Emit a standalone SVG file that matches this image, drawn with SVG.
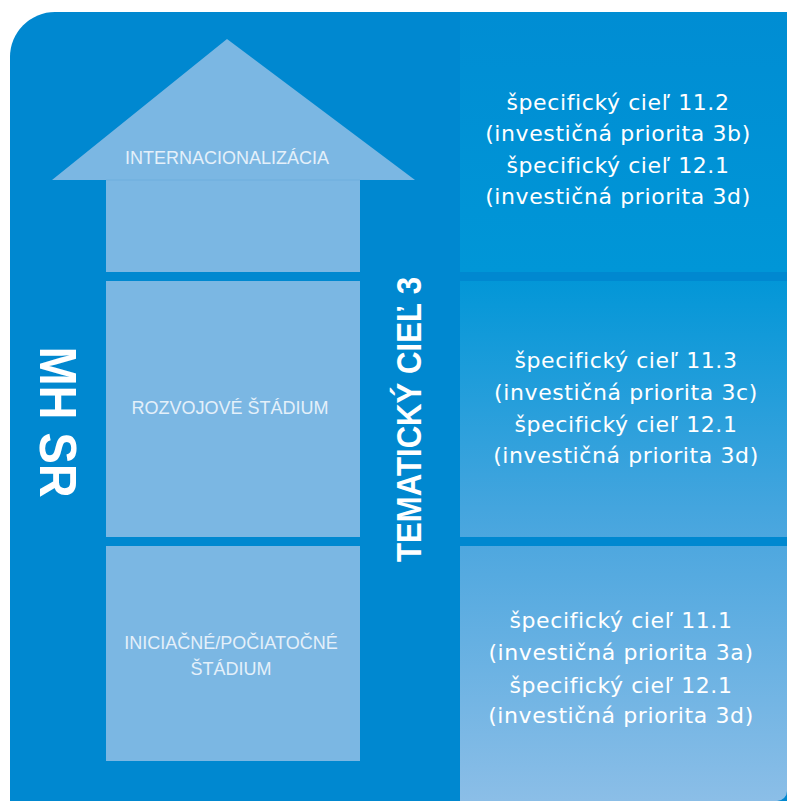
<svg xmlns="http://www.w3.org/2000/svg" width="787" height="801" viewBox="0 0 787 801">
<defs>
<linearGradient id="pg" gradientUnits="userSpaceOnUse" x1="0" y1="11" x2="0" y2="801">
<stop offset="0" stop-color="#008DD3"/>
<stop offset="0.33" stop-color="#0096D7"/>
<stop offset="0.67" stop-color="#4DA7DF"/>
<stop offset="1" stop-color="#8BBEE7"/>
</linearGradient>
<style>
.stage{fill:#7BB7E3;}
.lbl{font-family:"Liberation Sans",Arial,sans-serif;font-size:18px;fill:#E4F0FA;text-anchor:middle;}
.goal{font-family:"DejaVu Sans",Verdana,sans-serif;font-size:22px;fill:#FFFFFF;text-anchor:middle;letter-spacing:0.6px;}
.vert{font-family:"Liberation Sans",Arial,sans-serif;font-weight:bold;fill:#FFFFFF;text-anchor:middle;}
</style>
</defs>
<rect width="787" height="801" fill="#FFFFFF"/>
<path d="M10,801 L10,57 A45,45 0 0 1 55,12 L787,12 L787,801 Z" fill="#0088D0"/>
<g id="panel-top">
<rect x="460" y="12" width="327" height="260" fill="url(#pg)"/>
<text class="goal" x="618" y="110">špecifický cieľ 11.2</text>
<text class="goal" x="618" y="141">(investičná priorita 3b)</text>
<text class="goal" x="618" y="173">špecifický cieľ 12.1</text>
<text class="goal" x="618" y="204">(investičná priorita 3d)</text>
</g>
<g id="panel-mid">
<rect x="460" y="281" width="327" height="256" fill="url(#pg)"/>
<text class="goal" x="626" y="368">špecifický cieľ 11.3</text>
<text class="goal" x="626" y="400">(investičná priorita 3c)</text>
<text class="goal" x="626" y="432">špecifický cieľ 12.1</text>
<text class="goal" x="626" y="463">(investičná priorita 3d)</text>
</g>
<g id="panel-bottom">
<path d="M460,546 L787,546 L787,791 A10,10 0 0 1 777,801 L460,801 Z" fill="url(#pg)"/>
<text class="goal" x="621" y="628">špecifický cieľ 11.1</text>
<text class="goal" x="621" y="660">(investičná priorita 3a)</text>
<text class="goal" x="621" y="693">špecifický cieľ 12.1</text>
<text class="goal" x="621" y="723">(investičná priorita 3d)</text>
</g>
<g id="stage-internacionalizacia">
<path class="stage" d="M227,39 L415,180 L360,180 L360,272 L106,272 L106,180 L52,180 Z"/>
<line x1="106" y1="180" x2="360" y2="180" stroke="#6EAEDD" stroke-width="1"/>
<text class="lbl" x="227" y="164">INTERNACIONALIZÁCIA</text>
</g>
<g id="stage-rozvojove">
<rect class="stage" x="106" y="281" width="254" height="256"/>
<text class="lbl" x="230" y="414">ROZVOJOVÉ ŠTÁDIUM</text>
</g>
<g id="stage-iniciacne">
<rect class="stage" x="106" y="546" width="254" height="215"/>
<text class="lbl" x="231" y="649">INICIAČNÉ/POČIATOČNÉ</text>
<text class="lbl" x="231" y="675">ŠTÁDIUM</text>
</g>
<g id="label-mhsr">
<text class="vert" font-size="52" transform="translate(40,422) rotate(90)" textLength="151" lengthAdjust="spacingAndGlyphs">MH SR</text>
</g>
<g id="label-tematicky">
<text class="vert" font-size="35" transform="translate(421,419.5) rotate(-90)" textLength="285" lengthAdjust="spacingAndGlyphs">TEMATICKÝ CIEĽ 3</text>
</g>
<g id="connectors"></g>
</svg>
